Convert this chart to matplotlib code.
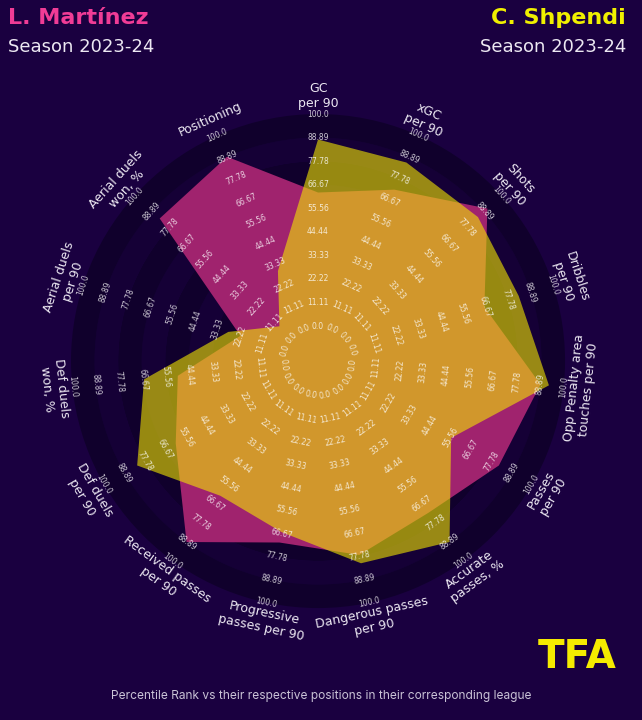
import numpy as np
import matplotlib
matplotlib.use("Agg")
import matplotlib.pyplot as plt
from matplotlib.patches import Wedge, Polygon, Circle

# ---------------- data ----------------
params = ["GC\nper 90", "xGC\nper 90", "Shots\nper 90", "Dribbles\nper 90",
          "Opp Penalty area\ntouches per 90", "Passes\nper 90", "Accurate\npasses, %",
          "Dangerous passes\nper 90", "Progressive\npasses per 90",
          "Received passes\nper 90", "Def duels\nper 90", "Def duels\nwon, %",
          "Aerial duels\nper 90", "Aerial duels\nwon, %", "Positioning"]
martinez = [63, 72, 91, 66, 89, 82, 72, 77, 71, 89, 61, 50, 22, 84, 89]
shpendi = [88, 86, 85, 83, 93, 56, 89, 81, 66, 62, 82, 66, 28, 8, 30]
ring_values = [0.0, 11.11, 22.22, 33.33, 44.44, 55.56, 66.67, 77.78, 88.89, 100.0]
ring_labels = ["0.0", "11.11", "22.22", "33.33", "44.44", "55.56", "66.67",
               "77.78", "88.89", "100.0"]
player_left = "L. Martínez"
player_right = "C. Shpendi"
season = "Season 2023-24"
footer = "Percentile Rank vs their respective positions in their corresponding league"

# ---------------- style ----------------
BG = "#1a0040"
RING_A = "#10002c"
RING_B = "#150036"
COL_M = "#a0236e"
COL_S = "#f2e600"
R0 = 16.5          # radius of value 0
LABEL_R = 125.0    # radius of parameter labels

fig = plt.figure(figsize=(6.42, 7.2), dpi=100)
fig.patch.set_facecolor(BG)
ax = fig.add_axes([0, 0, 1, 1])
ax.set_facecolor(BG)
ax.set_xlim(-150, 152.8)
ax.set_ylim(-169.3, 170.3)
ax.axis("off")

n = len(params)
theta_deg = 90 - np.arange(n) * 360.0 / n
theta_deg = (theta_deg + 180) % 360 - 180
theta = np.deg2rad(theta_deg)

def rad(v):
    return R0 + np.asarray(v, dtype=float)

# rings
radii = rad(ring_values)
for k in range(len(radii) - 1):
    inner, outer = radii[k], radii[k + 1]
    col = RING_A if (len(radii) - 2 - k) % 2 == 0 else RING_B
    ax.add_patch(Wedge((0, 0), outer, 0, 360, width=outer - inner,
                       facecolor=col, edgecolor="none", zorder=1))
ax.add_patch(Circle((0, 0), radii[0], facecolor=RING_B, edgecolor="none", zorder=1))

# polygons
def verts(vals):
    r = rad(vals)
    return np.column_stack([r * np.cos(theta), r * np.sin(theta)])

ax.add_patch(Polygon(verts(martinez), closed=True, facecolor=COL_M,
                     edgecolor="none", zorder=2))
ax.add_patch(Polygon(verts(shpendi), closed=True, facecolor=COL_S, alpha=0.6,
                     edgecolor="none", zorder=3))

# labels
for i in range(n):
    deg = theta_deg[i]
    rot = deg - 90
    if rot < -90:
        rot += 180
    c, s = np.cos(theta[i]), np.sin(theta[i])
    for rv, lab in zip(radii, ring_labels):
        ax.text(rv * c, rv * s, lab, rotation=rot, rotation_mode="anchor",
                ha="center", va="center", fontsize=5.5, color="white",
                alpha=0.78, zorder=5)
    ax.text(LABEL_R * c, LABEL_R * s, params[i], rotation=rot,
            rotation_mode="anchor", ha="center", va="center", fontsize=9,
            color="#ece8f2", linespacing=1.15, zorder=5)

# titles
fig.text(8 / 642, 1 - 18 / 720, player_left, ha="left", va="center",
         fontsize=16, fontweight="bold", color="#f03c96")
fig.text(8 / 642, 1 - 47 / 720, season, ha="left", va="center",
         fontsize=13, color="#ece8f2")
fig.text(626 / 642, 1 - 18 / 720, player_right, ha="right", va="center",
         fontsize=16, fontweight="bold", color="#f0f000")
fig.text(626 / 642, 1 - 47 / 720, season, ha="right", va="center",
         fontsize=13, color="#ece8f2")

fig.text(577 / 642, 1 - 657 / 720, "TFA", ha="center", va="center",
         fontsize=28, fontweight="heavy", color="#f5eb00")
fig.text(0.5, 1 - 696 / 720, footer, ha="center", va="center",
         fontsize=8.6, color="#c9c2d6", family="Inter")

fig.savefig("out.png", dpi=100, facecolor=BG)
